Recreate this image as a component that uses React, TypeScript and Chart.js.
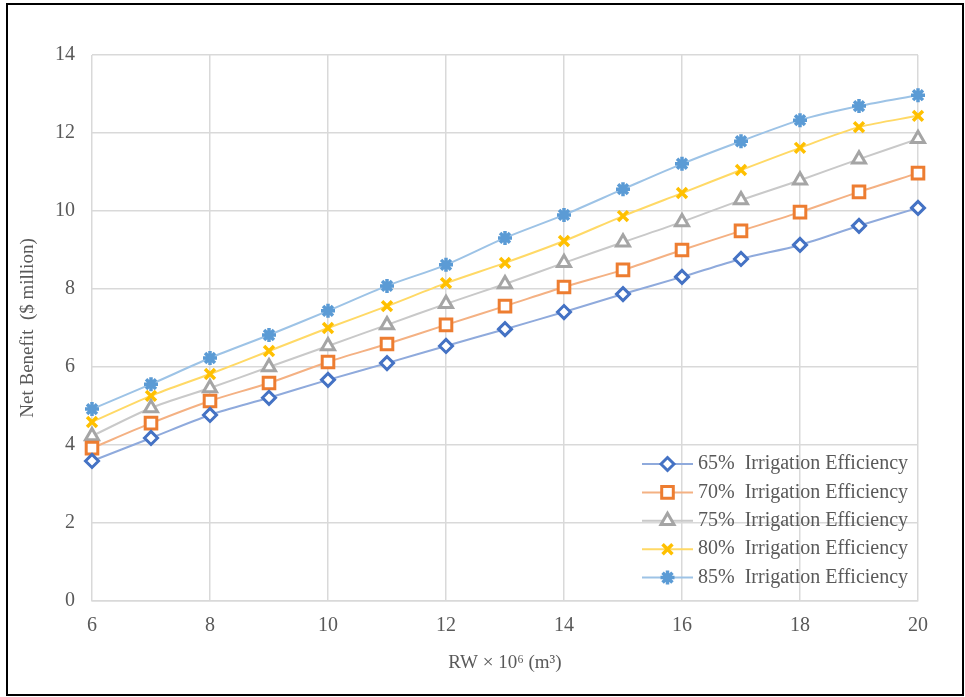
import React, { useEffect, useRef } from "react";
import { Chart, registerables } from "chart.js";
import { drawPoint } from "chart.js/helpers";

Chart.register(...registerables);

const rwValues = [6, 7, 8, 9, 10, 11, 12, 13, 14, 15, 16, 17, 18, 19, 20];
const eff65 = [3.59, 4.18, 4.77, 5.21, 5.67, 6.1, 6.54, 6.97, 7.41, 7.87, 8.31, 8.77, 9.13, 9.62, 10.08];
const eff70 = [3.92, 4.56, 5.13, 5.59, 6.13, 6.59, 7.08, 7.56, 8.05, 8.49, 9.0, 9.49, 9.97, 10.49, 10.97];
const eff75 = [4.23, 4.95, 5.46, 6.0, 6.54, 7.08, 7.62, 8.13, 8.67, 9.2, 9.72, 10.28, 10.79, 11.33, 11.85];
const eff80 = [4.59, 5.26, 5.82, 6.41, 7.0, 7.56, 8.15, 8.67, 9.23, 9.87, 10.46, 11.05, 11.62, 12.15, 12.44];
const eff85 = [4.92, 5.56, 6.23, 6.82, 7.44, 8.08, 8.62, 9.31, 9.9, 10.56, 11.21, 11.79, 12.33, 12.69, 12.97];
const seriesLabels = [
  "65%  Irrigation Efficiency",
  "70%  Irrigation Efficiency",
  "75%  Irrigation Efficiency",
  "80%  Irrigation Efficiency",
  "85%  Irrigation Efficiency",
];
const yTicks = [0, 2, 4, 6, 8, 10, 12, 14];
const xTicks = [6, 8, 10, 12, 14, 16, 18, 20];

const FONT = "'Liberation Serif', 'Times New Roman', serif";
const TEXT = "#595959";

const styles = [
  { line: "#8FAADC", marker: "#4472C4", fill: "#FFFFFF", shape: "rectRot", r: 6.5, bw: 3 },
  { line: "#F4B183", marker: "#ED7D31", fill: "#FFFFFF", shape: "rect", r: 8.2, bw: 3 },
  { line: "#C9C9C9", marker: "#A5A5A5", fill: "#FFFFFF", shape: "triangle", r: 7.5, bw: 3 },
  { line: "#FFD966", marker: "#FFC000", fill: "#FFC000", shape: "crossRot", r: 7, bw: 3.5 },
  { line: "#9DC3E6", marker: "#5B9BD5", fill: "#5B9BD5", shape: "star", r: 7, bw: 3.5 },
];

const legendPlugin = {
  id: "customLegend",
  afterDraw(chart: any) {
    const ctx = chart.ctx;
    const area = chart.chartArea;
    const x0 = area.right - 276;
    const y0 = area.bottom - 137;
    const step = 28.4;
    ctx.save();
    chart.data.datasets.forEach((ds: any, i: number) => {
      const y = y0 + i * step;
      ctx.strokeStyle = ds.borderColor;
      ctx.lineWidth = 2;
      ctx.beginPath();
      ctx.moveTo(x0, y);
      ctx.lineTo(x0 + 51, y);
      ctx.stroke();
      ctx.fillStyle = ds.pointBackgroundColor;
      ctx.strokeStyle = ds.pointBorderColor;
      ctx.lineWidth = ds.pointBorderWidth;
      drawPoint(ctx, { pointStyle: ds.pointStyle, radius: ds.pointRadius, borderWidth: ds.pointBorderWidth, rotation: 0 }, x0 + 25.5, y);
      ctx.fillStyle = TEXT;
      ctx.font = `20px ${FONT}`;
      ctx.textBaseline = "middle";
      ctx.textAlign = "left";
      ctx.fillText(ds.label, x0 + 56, y);
    });
    ctx.restore();
  },
};

export default function App() {
  const ref = useRef<HTMLCanvasElement | null>(null);
  useEffect(() => {
    if (!ref.current) return;
    const seriesValues = [eff65, eff70, eff75, eff80, eff85];
    const chart = new Chart(ref.current, {
      type: "line",
      data: {
        datasets: seriesValues.map((vals, i) => ({
          label: seriesLabels[i],
          data: rwValues.map((x, j) => ({ x, y: vals[j] })),
          borderColor: styles[i].line,
          borderWidth: 2,
          tension: 0.3,
          pointStyle: styles[i].shape as any,
          pointRadius: styles[i].r,
          pointBorderWidth: styles[i].bw,
          pointBorderColor: styles[i].marker,
          pointBackgroundColor: styles[i].fill,
          fill: false,
          clip: false as any,
        })),
      },
      options: {
        animation: false,
        responsive: false,
        maintainAspectRatio: false,
        layout: { padding: { left: 10, right: 47, top: 55, bottom: 12 } },
        plugins: { legend: { display: false }, tooltip: { enabled: false } },
        scales: {
          x: {
            type: "linear",
            min: 6,
            max: 20,
            afterBuildTicks: (scale: any) => {
              scale.ticks = xTicks.map((v) => ({ value: v }));
            },
            afterFit: (scale: any) => {
              scale.height = 84;
            },
            ticks: { color: TEXT, font: { family: FONT, size: 20 }, padding: 13, maxRotation: 0 },
            grid: { color: "#D9D9D9", lineWidth: 1.5, drawTicks: false },
            border: { display: true, color: "#D9D9D9", width: 1.5 },
            title: {
              display: true,
              text: "RW × 10⁶ (m³)",
              color: TEXT,
              font: { family: FONT, size: 19 },
              padding: { top: 0, bottom: 11 },
            },
          },
          y: {
            min: 0,
            max: 14,
            afterBuildTicks: (scale: any) => {
              scale.ticks = yTicks.map((v) => ({ value: v }));
            },
            afterFit: (scale: any) => {
              scale.width = 82;
            },
            ticks: { color: TEXT, font: { family: FONT, size: 20 }, padding: 17 },
            grid: { color: "#D9D9D9", lineWidth: 1.5, drawTicks: false },
            border: { display: false },
            title: {
              display: true,
              text: "Net Benefit  ($ million)",
              color: TEXT,
              font: { family: FONT, size: 19 },
              padding: { top: 7, bottom: 0 },
            },
          },
        },
      },
      plugins: [legendPlugin],
    });
    return () => chart.destroy();
  }, []);
  return (
    <div style={{ position: "absolute", left: 0, top: 0, width: 965, height: 697, background: "#fff" }}>
      <canvas ref={ref} width={965} height={697} style={{ position: "absolute", left: 0, top: 0, width: 965, height: 697 }} />
      <div
        style={{
          position: "absolute",
          left: 6,
          top: 3,
          width: 958,
          height: 693,
          boxSizing: "border-box",
          border: "2px solid #000",
          pointerEvents: "none",
        }}
      />
    </div>
  );
}
